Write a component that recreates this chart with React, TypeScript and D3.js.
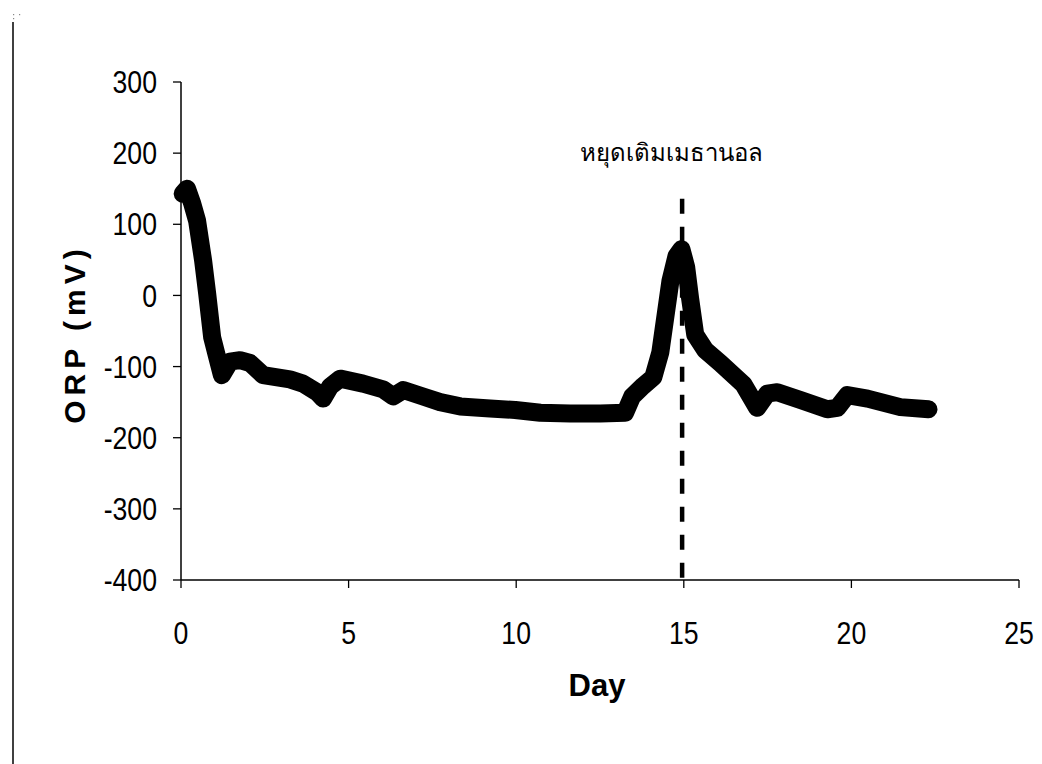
import React from "react";
import * as d3 from "d3";

const days = [0.05, 0.18, 0.33, 0.48, 0.66, 0.78, 0.93, 1.07, 1.22, 1.46, 1.76, 2.06, 2.45, 3.25, 3.64, 4.06, 4.24, 4.45, 4.75, 5.43, 6.03, 6.33, 6.63, 7.22, 7.73, 8.33, 9.22, 9.97, 10.72, 11.61, 12.51, 13.25, 13.46, 13.79, 14.09, 14.3, 14.45, 14.6, 14.78, 14.93, 15.07, 15.19, 15.34, 15.64, 16.09, 16.78, 17.19, 17.49, 17.79, 18.48, 19.28, 19.58, 19.88, 20.48, 21.46, 22.3];
const orp = [143, 150, 130, 105, 49, 3, -59, -85, -112, -93, -91, -95, -112, -118, -124, -136, -145, -128, -117, -124, -132, -142, -133, -142, -150, -156, -159, -161, -165, -166, -166, -165, -142, -127, -115, -80, -30, 20, 55, 65, 40, -5, -55, -77, -95, -125, -158, -138, -136, -147, -160, -158, -140, -145, -157, -160];

const xTicks = [0, 5, 10, 15, 20, 25];
const yTicks = [300, 200, 100, 0, -100, -200, -300, -400];
const stopDay = 14.95;
const stopTopValue = 136;
const annotation = "หยุดเติมเมธานอล";
const xTitle = "Day";
const yTitle = "ORP (mV)";

export default function App() {
  const x = d3.scaleLinear().domain([0, 25]).range([181, 1019]);
  const y = d3.scaleLinear().domain([-400, 300]).range([580, 82]);
  const line = d3
    .line<number>()
    .x((_, i) => x(days[i]))
    .y((d) => y(d))
    .curve(d3.curveLinear);
  const path = line(orp) || "";
  const tickFont = "'Liberation Sans', Arial, sans-serif";

  return (
    <svg
      width={1042}
      height={764}
      style={{ position: "absolute", left: 0, top: 0, background: "#fff" }}
    >
      <rect x={0} y={0} width={1042} height={764} fill="#fff" />
      {/* left border */}
      <line x1={13} x2={13} y1={22} y2={764} stroke="#000" strokeWidth={1.5} />
      <rect x={13} y={14} width={1.2} height={1.2} fill="#888" />
      <rect x={19} y={14} width={1.2} height={1.2} fill="#888" />
      <rect x={13} y={18} width={1.2} height={1.2} fill="#888" />

      {/* axes */}
      <line x1={x(0)} x2={x(0)} y1={y(300)} y2={y(-400)} stroke="#000" strokeWidth={1.5} />
      <line x1={x(0)} x2={x(25)} y1={y(-400)} y2={y(-400)} stroke="#000" strokeWidth={1.5} />
      {yTicks.map((t) => (
        <g key={"y" + t}>
          <line x1={x(0) - 8} x2={x(0)} y1={y(t)} y2={y(t)} stroke="#000" strokeWidth={1.3} />
          <text
            transform={`translate(157, ${y(t)}) scale(0.86, 1)`}
            dy="0.36em"
            textAnchor="end"
            fontFamily={tickFont}
            fontSize={31}
            fill="#000"
          >
            {t}
          </text>
        </g>
      ))}
      {xTicks.map((t) => (
        <g key={"x" + t}>
          <line x1={x(t)} x2={x(t)} y1={y(-400)} y2={y(-400) + 8} stroke="#000" strokeWidth={1.3} />
          <text
            transform={`translate(${x(t)}, 644) scale(0.86, 1)`}
            textAnchor="middle"
            fontFamily={tickFont}
            fontSize={31}
            fill="#000"
          >
            {t}
          </text>
        </g>
      ))}

      {/* axis titles */}
      <text
        x={597}
        y={696}
        textAnchor="middle"
        fontFamily={tickFont}
        fontWeight="bold"
        fontSize={31}
        fill="#000"
      >
        {xTitle}
      </text>
      <text
        transform={`translate(85, 334) rotate(-90)`}
        textAnchor="middle"
        fontFamily={tickFont}
        fontWeight="bold"
        fontSize={30}
        letterSpacing={5}
        fill="#000"
      >
        {yTitle}
      </text>

      {/* stop marker */}
      <line
        x1={x(stopDay)}
        x2={x(stopDay)}
        y1={y(stopTopValue)}
        y2={y(-400)}
        stroke="#000"
        strokeWidth={4.5}
        strokeDasharray="15 13"
      />
      <text
        x={671}
        y={161}
        textAnchor="middle"
        fontFamily="'DejaVu Serif', serif"
        fontSize={24}
        fill="#000"
      >
        {annotation}
      </text>

      {/* data line */}
      <path
        d={path}
        fill="none"
        stroke="#000"
        strokeWidth={18}
        strokeLinejoin="round"
        strokeLinecap="round"
      />
    </svg>
  );
}
